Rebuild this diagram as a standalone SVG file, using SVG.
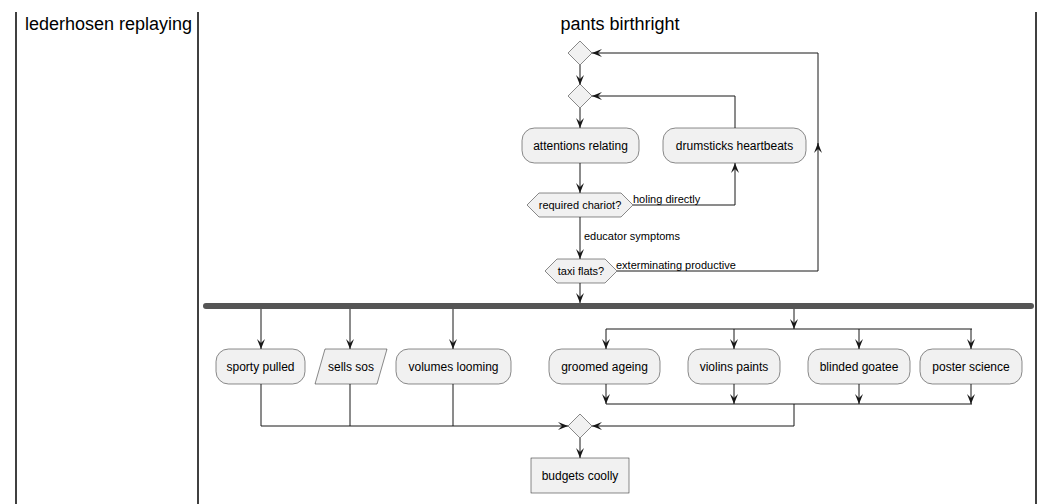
<svg xmlns="http://www.w3.org/2000/svg" width="1056" height="504" viewBox="0 0 1056 504">
<style>
.lane{stroke:#000;stroke-width:1.5}
.ttl{font-family:"Liberation Sans",Arial,sans-serif;font-size:18px;fill:#000}
.box{fill:#F1F1F1;stroke:#181818;stroke-width:0.5}
.t{font-family:"Liberation Sans",Arial,sans-serif;font-size:12px;fill:#000;text-anchor:middle}
.lbl{font-family:"Liberation Sans",Arial,sans-serif;font-size:11px;fill:#000}
.ln{fill:none;stroke:#181818;stroke-width:1}
</style>
<defs>
<marker id="ah" viewBox="0 0 10 8" refX="10" refY="4" markerWidth="10" markerHeight="8" markerUnits="userSpaceOnUse" orient="auto">
<path d="M0,0 L10,4 L0,8 L4,4 Z" fill="#181818"/>
</marker>
</defs>
<g id="lanes">
<line class="lane" x1="16" y1="12" x2="16" y2="504"/>
<line class="lane" x1="198" y1="12" x2="198" y2="504"/>
<line class="lane" x1="1036" y1="12" x2="1036" y2="504"/>
<text class="ttl" x="25" y="30">lederhosen replaying</text>
<text class="ttl" x="620" y="30" text-anchor="middle">pants birthright</text>
</g>
<g id="connectors">
<path class="ln" d="M580,65 L580,85" marker-end="url(#ah)"/>
<path class="ln" d="M580,108 L580,128" marker-end="url(#ah)"/>
<path class="ln" d="M735,128 L735,96 L592,96" marker-end="url(#ah)"/>
<path class="ln" d="M580,163 L580,193" marker-end="url(#ah)"/>
<path class="ln" d="M633,205 L735,205 L735,163" marker-end="url(#ah)"/>
<path class="ln" d="M580,217 L580,259" marker-end="url(#ah)"/>
<path class="ln" d="M617,271 L818,271 L818,143" marker-end="url(#ah)"/>
<path class="ln" d="M818,145 L818,53 L592,53" marker-end="url(#ah)"/>
<path class="ln" d="M580,283 L580,303" marker-end="url(#ah)"/>
<path class="ln" d="M261,309 L261,349" marker-end="url(#ah)"/>
<path class="ln" d="M350,309 L350,349" marker-end="url(#ah)"/>
<path class="ln" d="M453,309 L453,349" marker-end="url(#ah)"/>
<path class="ln" d="M794,309 L794,329" marker-end="url(#ah)"/>
<path class="ln" d="M606,329 L972,329"/>
<path class="ln" d="M606,329 L606,349" marker-end="url(#ah)"/>
<path class="ln" d="M734,329 L734,349" marker-end="url(#ah)"/>
<path class="ln" d="M859,329 L859,349" marker-end="url(#ah)"/>
<path class="ln" d="M971,329 L971,349" marker-end="url(#ah)"/>
<path class="ln" d="M606,384 L606,404" marker-end="url(#ah)"/>
<path class="ln" d="M734,384 L734,404" marker-end="url(#ah)"/>
<path class="ln" d="M859,384 L859,404" marker-end="url(#ah)"/>
<path class="ln" d="M971,384 L971,404" marker-end="url(#ah)"/>
<path class="ln" d="M606,404 L972,404"/>
<path class="ln" d="M794,404 L794,426 L592,426" marker-end="url(#ah)"/>
<path class="ln" d="M261,384 L261,426 L568,426" marker-end="url(#ah)"/>
<path class="ln" d="M350,384 L350,426"/>
<path class="ln" d="M453,384 L453,426"/>
<path class="ln" d="M580,438 L580,458" marker-end="url(#ah)"/>
<text class="lbl" x="633" y="203">holing directly</text>
<text class="lbl" x="584" y="240">educator symptoms</text>
<text class="lbl" x="616" y="269">exterminating productive</text>
</g>
<g id="merge1"><polygon class="box" points="568,53 580,41 592,53 580,65"/></g>
<g id="merge2"><polygon class="box" points="568,96 580,84 592,96 580,108"/></g>
<g id="attentions"><rect class="box" x="522" y="128" width="117" height="35" rx="12.5"/><text class="t" x="580.5" y="150">attentions relating</text></g>
<g id="drumsticks"><rect class="box" x="663" y="128" width="143" height="35" rx="12.5"/><text class="t" x="734.5" y="150">drumsticks heartbeats</text></g>
<g id="chariot"><polygon class="box" points="527,205 539,193 621,193 633,205 621,217 539,217"/><text class="t" x="580" y="209" style="font-size:11px">required chariot?</text></g>
<g id="taxi"><polygon class="box" points="545,271 557,259 605,259 617,271 605,283 557,283"/><text class="t" x="581" y="275" style="font-size:11px">taxi flats?</text></g>
<g id="fork"><rect x="203" y="303" width="831" height="6" rx="3" fill="#555555"/></g>
<g id="sporty"><rect class="box" x="216" y="349" width="89" height="35" rx="12.5"/><text class="t" x="260.5" y="371">sporty pulled</text></g>
<g id="sells"><polygon class="box" points="325,349 387,349 377,384 315,384"/><text class="t" x="351" y="371">sells sos</text></g>
<g id="volumes"><rect class="box" x="396" y="349" width="115" height="35" rx="12.5"/><text class="t" x="453.5" y="371">volumes looming</text></g>
<g id="groomed"><rect class="box" x="549" y="349" width="111" height="35" rx="12.5"/><text class="t" x="604.5" y="371">groomed ageing</text></g>
<g id="violins"><rect class="box" x="688" y="349" width="92" height="35" rx="12.5"/><text class="t" x="734" y="371">violins paints</text></g>
<g id="blinded"><rect class="box" x="808" y="349" width="102" height="35" rx="12.5"/><text class="t" x="859" y="371">blinded goatee</text></g>
<g id="poster"><rect class="box" x="920" y="349" width="102" height="35" rx="12.5"/><text class="t" x="971" y="371">poster science</text></g>
<g id="merge3"><polygon class="box" points="568,426 580,414 592,426 580,438"/></g>
<g id="budgets"><rect class="box" x="531" y="458" width="98" height="35"/><text class="t" x="580" y="480">budgets coolly</text></g>
</svg>
